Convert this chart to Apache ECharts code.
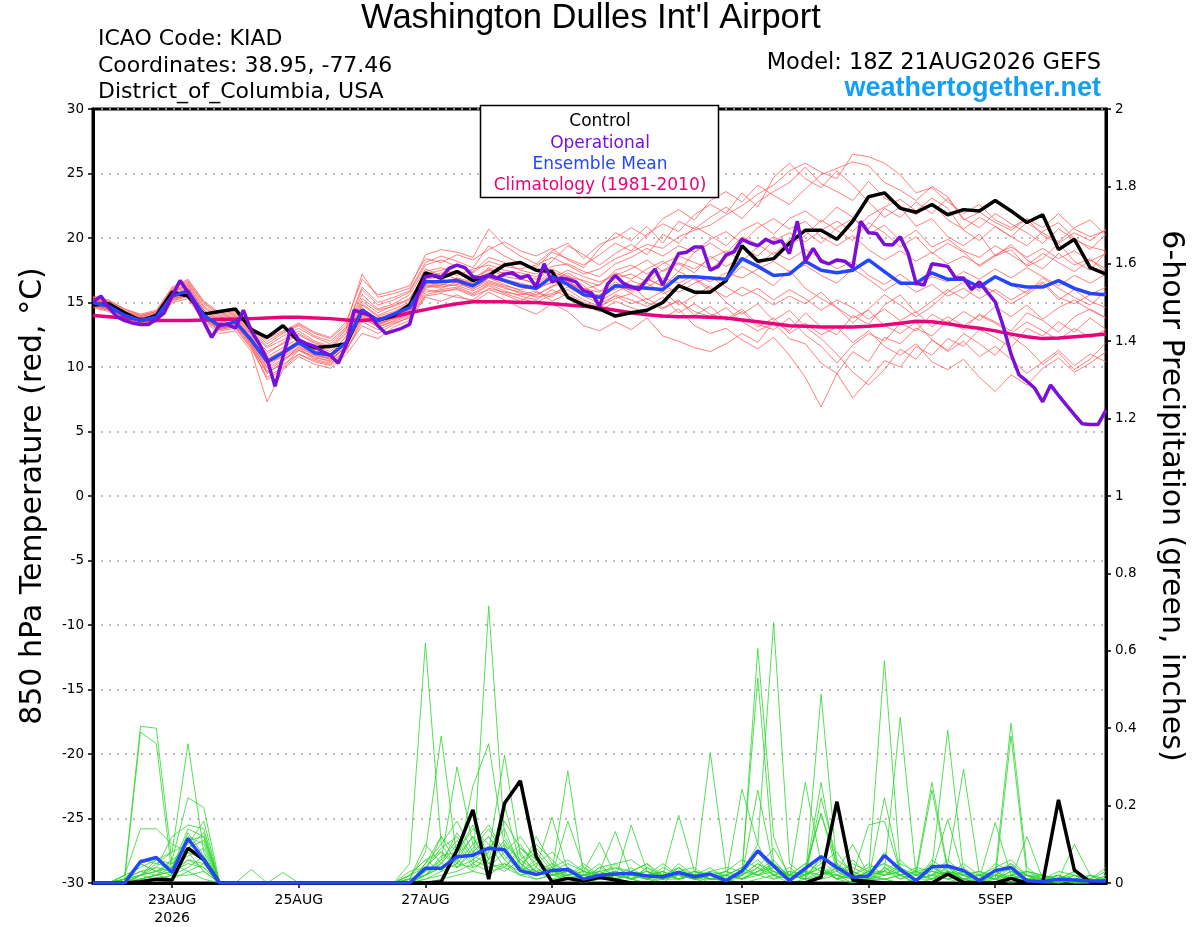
<!DOCTYPE html>
<html>
<head>
<meta charset="utf-8">
<script src="https://cdn.jsdelivr.net/npm/echarts@6.0.0/dist/echarts.min.js"></script>
<style>html,body{margin:0;padding:0;background:#fff}#chart{width:1200px;height:927px}</style>
</head>
<body>
<div id="chart"></div>
<script>
// ---------- DATA ----------
// time step: ensemble/control/mean/climatology every 6 h from 18Z 21AUG2026, operational every 3 h
const stepHours = 6;
const opStepHours = 3;
const dateTickHours = [30, 78, 126, 174, 246, 294, 342];
const dateTickLabels = ['23AUG\n2026', '25AUG', '27AUG', '29AUG', '1SEP', '3SEP', '5SEP'];

const controlTemp = [14.8,14.9,14.2,13.6,14.0,15.8,15.5,14.1,14.3,14.5,
  12.9,12.3,13.2,12.0,11.5,11.6,11.8,14.4,13.6,14.0,
  14.8,17.3,16.9,17.4,16.7,17.1,17.9,18.1,17.5,17.4,
  15.4,14.8,14.5,13.95,14.2,14.4,15.0,16.3,15.8,15.8,
  16.7,19.4,18.2,18.4,19.6,20.6,20.6,19.9,21.3,23.2,
  23.5,22.3,22.0,22.6,21.8,22.2,22.1,22.9,22.1,21.2,
  21.8,19.1,19.9,17.7,17.2];

const meanTemp = [15.0,14.7,14.0,13.6,13.85,15.5,15.9,14.0,13.2,13.5,
  12.1,10.4,11.1,11.9,11.1,10.9,11.9,14.4,13.6,14.1,
  14.6,16.6,16.6,16.7,16.3,17.1,16.7,16.3,16.1,17.0,
  16.4,15.6,15.4,16.3,16.2,16.1,16.0,17.0,17.0,16.9,
  16.8,18.4,17.8,17.1,17.2,18.2,17.5,17.3,17.5,18.3,
  17.4,16.5,16.5,17.3,16.8,16.8,16.2,17.0,16.4,16.2,
  16.2,16.7,16.1,15.7,15.6];

const climoTemp = [14.0,13.9,13.8,13.7,13.6,13.6,13.6,13.65,13.7,13.7,
  13.75,13.8,13.85,13.85,13.8,13.75,13.65,13.6,13.7,13.9,
  14.2,14.45,14.7,14.9,15.05,15.05,15.05,15.0,15.0,14.9,
  14.8,14.7,14.6,14.4,14.2,14.05,13.95,13.9,13.9,13.85,
  13.8,13.65,13.5,13.35,13.2,13.15,13.1,13.1,13.1,13.15,
  13.25,13.4,13.55,13.5,13.35,13.15,13.0,12.8,12.55,12.35,
  12.2,12.25,12.35,12.45,12.55];

const operationalTemp = [15.05,15.5,14.6,13.9,13.6,13.4,13.3,13.3,13.7,14.2,
  15.5,16.7,15.8,14.7,13.5,12.3,13.3,13.3,13.0,14.4,
  12.8,11.8,10.6,8.5,10.8,13.0,12.1,11.8,11.6,11.2,
  10.9,10.3,11.7,14.4,14.2,14.0,13.2,12.6,12.8,13.0,
  13.3,15.5,17.0,17.1,16.95,17.65,17.9,17.7,17.0,16.9,
  17.1,16.9,17.2,17.3,16.9,17.1,16.2,18.0,16.6,16.9,
  16.8,16.6,15.9,15.75,14.7,16.4,17.1,16.5,16.2,16.0,
  16.8,17.6,16.35,17.6,18.8,18.9,19.3,19.3,17.5,17.8,
  18.7,18.95,19.9,19.6,19.4,19.9,19.6,19.8,18.8,21.3,
  18.2,19.2,18.2,18.0,18.3,18.2,17.7,21.3,20.4,20.35,
  19.5,19.45,20.1,18.8,16.5,16.35,18.0,17.9,17.8,16.9,
  16.9,16.0,16.6,15.8,15.05,13.2,11.0,9.4,8.9,8.35,
  7.3,8.6,7.8,7.05,6.3,5.6,5.55,5.55,6.65];

const ensembleTemps = [
 [15.2,14.9,14.3,13.9,14.2,15.9,16.3,14.4,13.6,13.9,12.6,11.2,11.8,12.5,11.8,11.4,12.6,15.1,14.2,14.8,15.3,17.2,17.5,17.9,17.3,18.2,17.8,17.6,17.9,18.5,17.9,17.2,17.6,18.4,18.9,19.5,19.2,20.1,20.6,21.0,21.8,22.5,23.4,24.1,25.2,25.8,25.1,24.6,26.5,26.3,25.8,24.9,23.5,23.9,22.8,21.9,22.6,21.4,20.8,21.5,20.2,19.6,20.4,19.8,20.7],
 [14.8,14.5,13.8,13.4,13.5,15.2,15.6,13.7,12.9,13.1,11.5,9.6,10.2,11.0,10.4,10.1,11.2,13.8,13.1,13.5,14.0,15.8,16.0,16.2,15.7,16.4,15.9,15.5,15.2,16.0,15.4,14.8,14.3,15.1,14.6,14.2,13.8,14.5,13.2,12.6,13.0,12.1,11.4,12.3,10.9,9.2,6.9,9.5,11.2,10.4,12.3,11.8,13.0,12.4,13.6,12.9,14.1,13.5,12.8,14.2,13.6,12.7,13.9,14.5,13.8],
 [15.4,15.1,14.4,14.0,14.3,16.1,16.6,14.9,14.0,14.2,12.9,11.8,12.6,13.2,12.4,12.0,13.1,16.2,15.0,15.4,15.9,18.1,18.6,18.2,17.7,19.4,18.6,18.0,17.7,18.9,18.4,17.9,18.7,19.6,19.0,20.3,21.1,20.5,21.8,22.6,21.9,23.5,22.4,24.7,25.8,24.6,23.9,25.2,24.1,22.8,21.6,22.4,20.9,21.5,20.1,19.4,20.3,18.6,19.1,17.8,18.4,19.6,18.2,17.5,18.9],
 [14.6,14.3,13.6,13.2,13.5,15.0,15.3,13.5,12.6,12.8,11.2,7.3,9.8,10.8,10.2,9.9,11.0,12.6,12.2,13.1,13.6,15.4,15.1,15.6,15.0,15.8,15.2,14.6,14.1,14.9,14.3,13.2,12.8,13.5,12.9,13.8,12.4,12.0,11.5,11.2,11.8,12.6,11.9,13.5,12.8,14.2,13.1,12.5,14.0,13.3,14.8,15.6,14.2,15.1,16.0,15.3,16.4,15.8,14.9,15.6,16.5,15.2,16.0,15.1,14.6],
 [15.1,14.8,14.1,13.8,14.0,15.7,16.1,14.2,13.4,13.8,12.4,10.8,11.5,12.2,11.6,11.2,12.3,14.9,14.0,14.5,15.0,16.9,17.3,16.8,16.5,17.6,17.0,16.8,16.5,17.4,16.9,16.1,15.8,16.9,17.2,16.6,17.5,18.1,17.6,18.4,19.0,18.2,19.3,20.1,19.4,20.2,21.4,20.6,19.8,21.2,20.4,19.3,20.1,18.8,19.6,18.9,17.8,18.6,19.5,18.3,17.6,18.8,17.9,18.4,17.3],
 [14.9,14.6,13.9,13.5,13.7,15.4,15.8,13.8,13.0,13.3,11.8,9.9,10.6,11.4,10.7,10.5,11.6,14.1,13.3,13.9,14.4,16.3,16.1,16.6,16.0,16.9,16.4,15.9,15.6,16.2,17.1,16.3,15.1,15.8,16.4,15.2,15.9,14.8,15.5,16.3,15.0,14.1,14.9,13.6,14.4,13.1,12.2,11.0,9.6,8.6,9.8,11.4,10.6,12.1,11.3,12.6,11.8,10.9,12.4,11.5,10.2,11.1,9.8,10.6,11.9],
 [15.3,15.0,14.2,13.7,14.1,15.8,16.4,14.6,13.8,14.0,12.7,11.5,12.1,12.8,12.0,11.6,12.9,15.6,14.5,14.9,15.6,17.6,17.1,17.5,16.9,17.5,17.3,16.9,16.4,17.2,16.6,16.0,16.4,17.3,16.8,17.6,18.2,17.4,18.9,19.6,18.8,20.1,19.5,18.7,19.9,20.5,19.6,20.8,21.5,20.7,22.3,21.6,22.8,21.9,23.1,21.4,22.0,21.2,20.6,21.5,20.8,21.9,20.7,20.1,20.6],
 [14.7,14.4,13.7,13.3,13.6,15.1,15.5,13.6,12.8,13.0,11.4,9.2,10.0,11.3,10.6,10.3,11.4,13.2,12.6,13.3,13.9,15.6,15.9,16.0,15.5,16.0,15.6,15.1,15.8,15.4,16.6,15.9,15.3,16.4,15.7,16.9,16.2,17.4,16.8,15.9,16.7,17.8,17.1,16.3,17.5,16.1,15.3,14.6,13.4,14.5,15.6,14.8,13.9,14.7,15.8,16.6,15.9,17.1,16.4,15.7,16.9,16.1,15.4,14.8,15.9],
 [15.5,15.2,14.5,14.1,14.4,16.2,16.8,15.1,14.2,14.5,13.1,12.2,12.8,13.4,12.7,12.3,13.5,16.8,15.6,15.9,16.3,18.4,18.1,18.7,18.3,19.1,19.7,19.0,18.6,19.2,18.3,17.7,19.2,20.4,19.8,20.9,19.6,21.3,20.7,21.6,22.4,21.5,22.8,23.6,24.3,25.5,24.2,23.6,22.9,24.4,23.1,22.5,21.8,22.7,21.4,20.7,21.6,20.9,20.1,21.2,20.4,19.7,20.8,21.4,20.2],
 [14.8,14.5,13.9,13.5,13.7,15.3,15.7,13.9,13.1,13.4,11.7,9.5,10.4,11.6,10.9,10.7,11.8,14.2,13.4,13.7,14.2,16.1,16.4,16.3,15.9,16.5,16.1,15.8,15.4,15.7,16.2,15.5,14.9,15.5,14.9,15.3,14.6,15.1,14.3,13.9,14.6,13.5,12.8,13.4,12.2,11.8,10.3,9.5,7.6,9.0,10.5,10.0,11.6,10.9,12.2,11.6,12.9,12.3,11.5,13.0,12.4,13.5,12.7,13.8,12.9],
 [15.0,14.7,14.0,13.6,13.9,15.5,15.9,14.0,13.2,13.6,12.0,10.2,11.0,11.8,11.2,10.9,11.9,14.6,13.5,14.0,14.6,16.5,16.8,16.5,16.2,16.9,16.6,16.2,16.0,16.6,17.3,16.6,15.9,16.0,16.7,16.2,16.9,16.5,17.1,16.6,17.3,16.9,17.6,18.2,17.4,17.9,17.1,16.5,17.6,16.8,15.9,16.7,15.8,16.4,15.5,16.1,15.3,16.0,15.2,15.9,16.6,15.4,14.9,15.6,16.2],
 [15.2,14.9,14.2,13.8,14.0,15.6,16.0,14.3,13.5,13.7,12.3,10.6,11.3,12.0,11.4,11.0,12.4,14.8,13.9,14.3,14.9,16.8,17.0,17.3,16.8,17.7,17.2,17.1,16.8,17.6,17.0,16.7,16.3,17.5,17.9,17.2,18.0,18.6,18.1,17.6,18.5,19.2,18.6,19.8,20.4,19.7,20.6,21.3,20.5,21.7,22.4,23.0,22.1,23.1,22.3,20.6,19.8,20.9,20.1,19.4,20.5,21.2,20.0,19.1,20.3],
 [14.9,14.6,13.8,13.4,13.8,15.4,15.8,13.9,13.0,13.2,11.9,10.0,10.9,11.7,11.0,10.6,11.5,14.0,13.2,13.8,14.3,16.2,16.6,16.9,16.3,16.7,16.3,16.0,16.3,16.5,16.8,15.6,15.6,16.6,15.9,16.5,15.7,16.2,16.9,16.1,15.4,16.2,15.6,14.8,15.5,14.9,15.8,14.6,13.8,14.4,13.2,12.6,13.5,12.1,11.2,12.0,10.8,11.6,10.6,9.5,10.4,11.3,10.1,11.0,10.4],
 [15.3,15.0,14.3,13.9,14.2,15.9,16.5,14.7,13.9,14.1,12.8,11.6,12.4,13.0,12.3,11.8,13.0,16.0,14.8,15.2,15.8,17.9,18.3,17.8,17.4,18.5,18.1,17.5,17.2,18.2,19.4,18.7,17.9,18.8,19.5,18.7,20.3,19.6,20.9,20.2,19.4,20.6,21.2,20.3,21.5,22.1,21.2,22.4,21.6,20.3,21.0,19.8,20.6,19.3,19.9,19.0,18.5,19.4,18.7,17.9,18.8,18.1,17.4,18.3,17.6],
 [14.7,14.4,13.7,13.4,13.6,15.2,15.6,13.7,12.9,13.2,11.6,9.0,9.9,11.0,10.5,10.2,11.3,13.5,12.9,13.4,13.8,15.5,15.7,15.4,15.2,16.1,15.8,15.6,15.9,15.1,15.7,15.0,14.6,15.6,15.2,14.7,15.4,14.2,14.9,14.1,13.7,14.5,13.3,12.9,13.8,12.5,11.6,10.3,11.7,12.6,12.0,13.4,12.8,14.1,13.4,14.3,13.6,14.7,13.9,14.8,13.7,14.6,15.2,14.4,13.8],
 [15.4,15.1,14.5,14.0,14.3,16.0,16.7,15.0,14.1,14.3,13.0,12.0,12.7,13.3,12.6,12.2,13.3,17.2,15.4,15.7,16.1,18.7,19.1,18.9,18.5,20.7,19.4,18.6,18.0,19.0,19.6,18.4,19.5,20.0,20.8,20.1,21.5,22.2,21.4,22.9,23.6,22.8,24.1,23.3,22.6,23.8,24.9,25.4,25.9,25.6,24.3,23.7,22.9,24.0,23.2,21.5,20.8,21.9,21.1,20.4,19.6,20.7,19.9,19.3,19.0],
 [15.1,14.8,14.1,13.7,13.9,15.6,16.0,14.1,13.3,13.5,12.2,10.5,11.2,11.9,11.3,10.8,12.1,14.5,13.7,14.2,14.7,16.6,16.3,16.9,16.6,17.3,16.8,16.5,16.2,16.9,17.5,17.0,16.6,17.1,17.6,18.3,17.4,18.0,17.3,18.6,17.8,18.5,17.9,18.9,18.3,19.1,18.4,17.6,18.2,17.1,16.4,17.2,16.3,17.0,16.6,17.4,16.8,17.6,16.9,17.7,17.0,16.3,17.1,16.5,17.2],
 [14.8,14.5,13.8,13.5,13.7,15.3,15.6,13.8,13.0,13.3,11.8,9.7,10.5,11.3,10.8,10.4,11.7,13.9,13.1,13.6,14.1,16.0,15.8,16.1,15.6,16.3,15.7,15.3,15.0,15.6,16.0,15.2,14.7,15.3,15.7,15.0,14.5,15.2,14.0,14.7,13.6,14.3,13.1,13.8,12.6,13.4,12.5,13.1,11.9,12.8,11.6,10.9,11.8,10.4,9.8,10.6,9.2,8.1,9.4,8.6,9.9,10.7,9.6,10.3,11.2],
 [15.2,14.9,14.2,13.8,14.1,15.8,16.2,14.4,13.7,13.9,12.5,11.0,11.9,12.6,11.9,11.5,12.7,15.3,14.4,14.7,15.2,17.4,17.7,17.1,17.6,17.9,17.5,17.3,17.0,17.8,18.0,17.4,17.0,18.0,18.5,19.2,18.6,19.4,18.9,19.9,20.5,19.6,20.8,21.5,20.7,21.3,20.1,19.4,20.2,19.1,18.3,19.0,18.2,18.9,18.0,18.6,17.9,18.7,19.3,18.5,19.2,18.4,19.0,18.2,18.8],
 [14.9,14.6,13.9,13.5,13.8,15.4,15.7,13.9,13.1,13.4,11.9,10.3,10.8,11.5,10.9,10.6,11.6,14.3,13.3,13.9,14.5,16.4,16.2,16.4,16.1,16.6,16.2,15.7,15.5,16.3,16.5,15.8,15.4,16.2,16.0,16.8,16.3,15.8,16.5,17.0,16.2,15.5,16.1,15.2,16.0,15.3,14.4,15.2,14.6,13.7,14.5,13.6,14.3,13.1,13.9,13.2,14.0,13.4,12.6,13.5,12.8,12.1,13.0,12.3,12.9]
];

const controlPrecip = [0,0,0,0.003,0.01,0.008,0.09,0.06,0,0,
  0,0,0,0,0,0,0,0,0,0,
  0,0,0.003,0.085,0.189,0.01,0.206,0.264,0.068,0.003,
  0.012,0.005,0.015,0.008,0,0,0,0,0,0,
  0,0,0,0,0,0,0.015,0.21,0.008,0.004,
  0,0,0,0,0.023,0.002,0,0,0.012,0,
  0,0.215,0.033,0.002,0];

const meanPrecip = [0,0,0,0.055,0.066,0.027,0.115,0.06,0,0,
  0,0,0,0,0,0,0,0,0,0,
  0,0.038,0.038,0.068,0.072,0.09,0.086,0.032,0.022,0.032,
  0.035,0.01,0.02,0.023,0.025,0.018,0.016,0.027,0.016,0.023,
  0.006,0.031,0.083,0.044,0.006,0.038,0.068,0.04,0.015,0.018,
  0.071,0.035,0.006,0.042,0.044,0.032,0.006,0.032,0.04,0.006,
  0.003,0.01,0.008,0.005,0.005];

const ensemblePrecips = [
 [0,0,0.02,0.405,0.40,0.05,0.03,0.01,0,0, 0,0,0,0,0,0,0,0,0,0, 0,0.05,0.12,0.08,0.15,0.06,0.10,0.03,0.01,0.02, 0.03,0.01,0.02,0.05,0.01,0,0.02,0.04,0.01,0, 0,0.02,0.606,0.12,0.01,0.03,0.18,0.05,0.01,0, 0.04,0.02,0,0.06,0.03,0.01,0,0.02,0.05,0, 0,0.01,0,0,0],
 [0,0,0.01,0.39,0.36,0.02,0.06,0.04,0,0, 0,0,0.027,0,0,0,0,0,0,0, 0,0.02,0.06,0.30,0.10,0.05,0.04,0.08,0.02,0.03, 0.01,0.02,0.01,0.03,0.02,0.01,0,0.03,0.02,0.01, 0.01,0.242,0.10,0.673,0.05,0.02,0.04,0.01,0,0.02, 0.01,0,0.01,0.03,0.165,0.02,0,0.01,0.38,0.02, 0,0,0.01,0,0],
 [0,0,0,0.02,0.05,0.08,0.36,0.08,0,0, 0.035,0,0,0,0,0,0,0,0,0, 0.05,0.62,0.10,0.04,0.08,0.12,0.06,0.02,0.04,0.01, 0.02,0.03,0.105,0.02,0.01,0.04,0.01,0.02,0.01,0.337, 0.03,0.01,0.04,0.02,0.01,0.26,0.05,0.01,0.02,0.01, 0.22,0.03,0.01,0.02,0.04,0.01,0,0.03,0.01,0.01, 0,0,0.02,0.01,0],
 [0,0,0.01,0.05,0.03,0.06,0.22,0.195,0,0, 0,0,0,0,0,0,0,0,0,0, 0.01,0.08,0.38,0.06,0.12,0.04,0.05,0.03,0.06,0.02, 0.04,0.01,0.03,0.133,0.02,0.01,0.03,0.01,0.03,0.02, 0.01,0.03,0.53,0.05,0.02,0.01,0.488,0.04,0.01,0.03, 0.05,0.02,0,0.01,0.03,0.02,0.01,0,0.02,0.01, 0.01,0,0,0,0.02],
 [0,0,0.02,0.14,0.14,0.10,0.08,0.03,0,0, 0,0,0,0,0,0,0,0,0,0, 0,0.03,0.05,0.10,0.04,0.716,0.12,0.05,0.02,0.04, 0.06,0.03,0.02,0.01,0.15,0.03,0.01,0.05,0.02,0.01, 0.02,0.01,0.03,0.06,0.01,0.02,0.26,0.03,0.01,0.02, 0.574,0.04,0.01,0.02,0.01,0.03,0.02,0.01,0.03,0.01, 0,0.01,0,0.01,0],
 [0,0,0.01,0.03,0.04,0.12,0.15,0.14,0,0, 0,0,0,0,0,0,0,0,0,0, 0.02,0.04,0.08,0.05,0.25,0.36,0.09,0.04,0.03,0.02, 0.02,0.04,0.01,0.02,0.03,0.05,0.02,0.175,0.03,0.01, 0.01,0.02,0.24,0.04,0.02,0.01,0.22,0.06,0.03,0.01, 0.03,0.428,0.02,0.01,0.02,0.01,0.01,0.02,0.01,0.12, 0.01,0,0.01,0,0],
 [0,0,0.01,0.06,0.05,0.04,0.12,0.10,0,0, 0,0,0,0,0,0,0,0,0,0, 0.01,0.02,0.04,0.06,0.03,0.08,0.33,0.07,0.03,0.05, 0.01,0.02,0.03,0.01,0.02,0.01,0.04,0.02,0.01,0.03, 0.02,0.04,0.02,0.03,0.01,0.04,0.18,0.03,0.10,0.02, 0.01,0.02,0.03,0.26,0.04,0.02,0.01,0.03,0.413,0.04, 0.01,0.02,0,0.01,0],
 [0,0,0.02,0.04,0.06,0.08,0.10,0.16,0,0, 0,0,0,0,0,0,0,0,0,0, 0,0.05,0.10,0.16,0.08,0.12,0.06,0.10,0.04,0.17, 0.03,0.01,0.04,0.02,0.01,0.02,0.03,0.01,0.02,0.01, 0.03,0.02,0.05,0.02,0.01,0.03,0.02,0.05,0.02,0.15, 0.16,0.03,0.02,0.24,0.03,0.01,0.02,0.01,0.04,0.02, 0,0.01,0.03,0,0],
 [0,0,0.01,0.02,0.03,0.05,0.11,0.12,0,0, 0,0,0,0,0,0,0,0,0,0, 0.02,0.06,0.03,0.09,0.18,0.06,0.20,0.05,0.08,0.03, 0.29,0.02,0.03,0.04,0.02,0.03,0.01,0.03,0.02,0.04, 0.01,0.03,0.06,0.02,0.03,0.02,0.04,0.01,0.03,0.01, 0.02,0.05,0.03,0.04,0.395,0.03,0.01,0.02,0.01,0.03, 0.02,0,0.01,0.02,0.01],
 [0,0,0.01,0.03,0.02,0.06,0.09,0.13,0,0, 0,0,0,0,0,0,0,0,0,0, 0.01,0.03,0.12,0.05,0.10,0.15,0.08,0.12,0.06,0.02, 0.16,0.04,0.02,0.03,0.01,0.02,0.05,0.02,0.01,0.02, 0.03,0.01,0.03,0.04,0.02,0.05,0.03,0.02,0.01,0.03, 0.02,0.03,0.01,0.02,0.05,0.294,0.02,0.01,0.03,0.02, 0.01,0.02,0,0,0.01],
 [0,0,0,0.02,0.04,0.03,0.13,0.07,0,0, 0,0,0,0,0,0,0,0,0,0, 0.03,0.04,0.09,0.12,0.06,0.09,0.14,0.04,0.10,0.06, 0.02,0.03,0.01,0.02,0.04,0.01,0.02,0.01,0.03,0.02, 0.01,0.02,0.04,0.01,0.03,0.02,0.06,0.02,0.04,0.02, 0.03,0.02,0.04,0.03,0.02,0.04,0.01,0.156,0.02,0.03, 0.02,0.01,0.10,0.02,0],
 [0,0,0.01,0.05,0.03,0.04,0.07,0.09,0,0, 0,0,0,0,0,0,0,0,0,0, 0,0.02,0.07,0.08,0.14,0.10,0.04,0.09,0.05,0.08, 0.04,0.02,0.05,0.01,0.03,0.02,0.01,0.04,0.01,0.02, 0.02,0.04,0.02,0.05,0.02,0.03,0.01,0.04,0.03,0.01, 0.04,0.01,0.03,0.02,0.03,0.02,0.03,0.02,0.02,0.01, 0.01,0.03,0.02,0.01,0.04],
 [0,0,0,0.01,0.02,0.03,0.06,0.05,0,0, 0,0,0,0,0,0,0,0,0,0, 0.01,0.10,0.05,0.13,0.07,0.05,0.10,0.06,0.03,0.04, 0.02,0.05,0.02,0.03,0.01,0.04,0.02,0.03,0.04,0.01, 0.01,0.02,0.08,0.03,0.01,0.02,0.05,0.08,0.02,0.04, 0.05,0.03,0.01,0.02,0.06,0.02,0.01,0.05,0.03,0.01, 0,0.02,0.01,0,0.02],
 [0,0,0.01,0.02,0.06,0.05,0.09,0.11,0,0, 0,0,0,0,0,0,0,0,0,0, 0.02,0.06,0.08,0.04,0.09,0.14,0.07,0.03,0.12,0.05, 0.03,0.01,0.04,0.05,0.06,0.03,0.02,0.01,0.02,0.03, 0.04,0.03,0.10,0.02,0.04,0.01,0.07,0.03,0.05,0.03, 0.03,0.06,0.02,0.04,0.02,0.05,0.02,0.04,0.06,0.02, 0.02,0.01,0.03,0.01,0],
 [0,0,0,0.01,0.02,0.04,0.14,0.12,0,0, 0,0,0,0,0,0,0,0,0,0, 0,0.03,0.06,0.11,0.05,0.08,0.16,0.09,0.06,0.03, 0.05,0.03,0.02,0.04,0.03,0.05,0.01,0.02,0.03,0.02, 0.03,0.06,0.04,0.09,0.02,0.05,0.03,0.01,0.06,0.02, 0.08,0.02,0.03,0.01,0.04,0.03,0.01,0.03,0.05,0.02, 0.01,0,0.02,0.01,0.03],
 [0,0,0,0.02,0.03,0.02,0.08,0.06,0,0, 0,0,0,0,0,0,0,0,0,0, 0.01,0.02,0.04,0.07,0.12,0.05,0.03,0.06,0.09,0.04, 0.01,0.02,0.03,0.01,0.02,0.03,0.01,0.04,0.02,0.01, 0.02,0.01,0.03,0.05,0.01,0.03,0.02,0.04,0.01,0.03, 0.02,0.04,0.02,0.05,0.01,0.02,0.03,0.01,0.02,0.03, 0.01,0.02,0,0.02,0.01],
 [0,0,0.01,0.01,0.02,0.03,0.05,0.04,0,0, 0,0,0,0,0,0,0,0,0,0, 0,0.01,0.03,0.05,0.04,0.06,0.11,0.05,0.02,0.03, 0.02,0.01,0.02,0.03,0.01,0.02,0.03,0.01,0.02,0.01, 0.01,0.02,0.05,0.03,0.02,0.01,0.03,0.02,0.01,0.02, 0.03,0.01,0.02,0.03,0.02,0.01,0.02,0.03,0.01,0.02, 0,0.01,0.02,0,0.01],
 [0,0,0,0.02,0.01,0.02,0.04,0.07,0,0, 0,0,0,0,0,0,0,0,0,0, 0,0.02,0.05,0.04,0.06,0.04,0.08,0.03,0.05,0.02, 0.03,0.02,0.01,0.02,0.03,0.01,0.02,0.03,0.01,0.02, 0.01,0.03,0.02,0.04,0.01,0.02,0.04,0.01,0.02,0.05, 0.02,0.03,0.01,0.04,0.02,0.03,0.01,0.02,0.04,0.01, 0.02,0,0.01,0.02,0],
 [0,0,0,0.01,0.02,0.01,0.03,0.05,0,0, 0,0,0,0,0,0,0,0,0,0, 0,0.01,0.02,0.03,0.05,0.03,0.04,0.02,0.03,0.01, 0.01,0.02,0.01,0.01,0.02,0.01,0.01,0.02,0.01,0.01, 0.02,0.01,0.02,0.01,0.02,0.01,0.02,0.03,0.01,0.01, 0.01,0.02,0.01,0.01,0.03,0.01,0.02,0.01,0.01,0.02, 0.01,0.01,0,0.01,0],
 [0,0,0,0,0.01,0.02,0.02,0.03,0,0, 0,0,0,0,0,0,0,0,0,0, 0,0,0.01,0.02,0.03,0.02,0.05,0.02,0.01,0.02, 0.01,0,0.01,0.02,0.01,0,0.01,0.01,0.02,0, 0.01,0,0.01,0.02,0,0.01,0.01,0.02,0,0.01, 0.01,0,0.01,0.02,0.01,0,0.01,0.01,0,0.01, 0,0.01,0,0,0.01]
];

// ---------- STYLE ----------
const FONT = 'DejaVu Sans';
const COL = {
  member: '#ff5757', precipMember: '#2fd62f', control: '#000000',
  operational: '#7a0fd8', mean: '#2446ff', climo: '#e8037c'
};

const toPairs = (arr, step) => arr.map((v, i) => [i * step, v]);

const series = [];
ensembleTemps.forEach((arr, k) => series.push({
  name: 'tempMember' + (k + 1), type: 'line', yAxisIndex: 0, data: toPairs(arr, stepHours),
  showSymbol: false, silent: true, z: 1,
  lineStyle: { color: COL.member, width: 0.9, opacity: 0.85 }
}));
ensemblePrecips.forEach((arr, k) => series.push({
  name: 'precipMember' + (k + 1), type: 'line', yAxisIndex: 1, data: toPairs(arr, stepHours),
  showSymbol: false, silent: true, z: 1,
  lineStyle: { color: COL.precipMember, width: 0.9, opacity: 0.9 }
}));
series.push(
  { name: 'Climatology (1981-2010)', type: 'line', yAxisIndex: 0, data: toPairs(climoTemp, stepHours),
    showSymbol: false, z: 3, lineStyle: { color: COL.climo, width: 3.5 } },
  { name: 'Control', type: 'line', yAxisIndex: 0, data: toPairs(controlTemp, stepHours),
    showSymbol: false, z: 4, lineStyle: { color: COL.control, width: 3.5 } },
  { name: 'Control precip', type: 'line', yAxisIndex: 1, data: toPairs(controlPrecip, stepHours),
    showSymbol: false, z: 4, lineStyle: { color: COL.control, width: 3.5 } },
  { name: 'Ensemble Mean', type: 'line', yAxisIndex: 0, data: toPairs(meanTemp, stepHours),
    showSymbol: false, z: 5, lineStyle: { color: COL.mean, width: 3.5 } },
  { name: 'Ensemble Mean precip', type: 'line', yAxisIndex: 1, data: toPairs(meanPrecip, stepHours),
    showSymbol: false, z: 5, lineStyle: { color: COL.mean, width: 3.5 } },
  { name: 'Operational', type: 'line', yAxisIndex: 0, data: toPairs(operationalTemp, opStepHours),
    showSymbol: false, z: 6, lineStyle: { color: COL.operational, width: 3.5 } }
);

const legendLines = [
  { text: 'Control', color: COL.control },
  { text: 'Operational', color: COL.operational },
  { text: 'Ensemble Mean', color: COL.mean },
  { text: 'Climatology (1981-2010)', color: COL.climo }
];

const graphic = [
  { type: 'text', x: 591, y: 18, z: 100,
    style: { text: "Washington Dulles Int'l Airport", font: '34.5px "Liberation Sans"', fill: '#000', align: 'center', verticalAlign: 'middle' } },
  { type: 'text', x: 98, y: 39, z: 100,
    style: { text: 'ICAO Code: KIAD', font: '22px "' + FONT + '"', fill: '#000', verticalAlign: 'middle' } },
  { type: 'text', x: 98, y: 66, z: 100,
    style: { text: 'Coordinates: 38.95, -77.46', font: '22px "' + FONT + '"', fill: '#000', verticalAlign: 'middle' } },
  { type: 'text', x: 98, y: 92, z: 100,
    style: { text: 'District_of_Columbia, USA', font: '22px "' + FONT + '"', fill: '#000', verticalAlign: 'middle' } },
  { type: 'text', x: 1101, y: 63, z: 100,
    style: { text: 'Model: 18Z 21AUG2026 GEFS', font: '22.5px "' + FONT + '"', fill: '#000', align: 'right', verticalAlign: 'middle' } },
  { type: 'text', x: 1101, y: 89, z: 100,
    style: { text: 'weathertogether.net', font: 'bold 27px "Liberation Sans"', fill: '#12a0f5', align: 'right', verticalAlign: 'middle' } },
  { type: 'rect', z: 100, shape: { x: 480.5, y: 105.5, width: 238, height: 92 },
    style: { fill: '#fff', stroke: '#000', lineWidth: 1.5 } }
];
legendLines.forEach((l, k) => graphic.push({
  type: 'text', x: 600, y: 122 + k * 21.3, z: 101,
  style: { text: l.text, font: '17px "' + FONT + '"', fill: l.color, align: 'center', verticalAlign: 'middle' }
}));

const option = {
  animation: false,
  backgroundColor: '#fff',
  textStyle: { fontFamily: FONT },
  grid: { left: 93, right: 94, top: 109, bottom: 44, show: true, borderColor: '#000', borderWidth: 3, backgroundColor: 'transparent' },
  xAxis: {
    type: 'value', min: 0, max: 384,
    axisLine: { onZero: false, lineStyle: { color: '#000', width: 3 } },
    splitLine: { show: false },
    axisTick: { show: true, customValues: dateTickHours, length: 5, lineStyle: { color: '#000', width: 1.5 } },
    axisLabel: {
      customValues: dateTickHours, color: '#000', fontSize: 14, fontFamily: FONT, margin: 8, lineHeight: 18,
      formatter: v => { const k = dateTickHours.indexOf(v); return k >= 0 ? dateTickLabels[k] : ''; }
    }
  },
  yAxis: [
    {
      type: 'value', min: -30, max: 30, interval: 5, position: 'left',
      name: '850 hPa Temperature (red, °C)', nameLocation: 'middle', nameGap: 45,
      nameTextStyle: { fontSize: 30, color: '#000', fontFamily: FONT },
      axisLine: { show: true, lineStyle: { color: '#000', width: 3 } },
      axisTick: { show: true, length: 5, lineStyle: { color: '#000', width: 1.5 } },
      axisLabel: { color: '#000', fontSize: 13.5, fontFamily: FONT, margin: 9 },
      splitLine: { show: true, lineStyle: { color: '#a8a8a8', type: [2, 6], width: 1.5 } }
    },
    {
      type: 'value', min: 0, max: 2, interval: 0.2, position: 'right',
      name: '6-hour Precipitation (green, inches)', nameLocation: 'middle', nameGap: 50, nameRotate: -90,
      nameTextStyle: { fontSize: 30, color: '#000', fontFamily: FONT },
      axisLine: { show: true, lineStyle: { color: '#000', width: 3 } },
      axisTick: { show: true, length: 5, lineStyle: { color: '#000', width: 1.5 } },
      axisLabel: { color: '#000', fontSize: 13.5, fontFamily: FONT, margin: 9 },
      splitLine: { show: false }
    }
  ],
  graphic: graphic,
  series: series
};

const chart = echarts.init(document.getElementById('chart'), null, { renderer: 'canvas' });
chart.setOption(option);
</script>
</body>
</html>
